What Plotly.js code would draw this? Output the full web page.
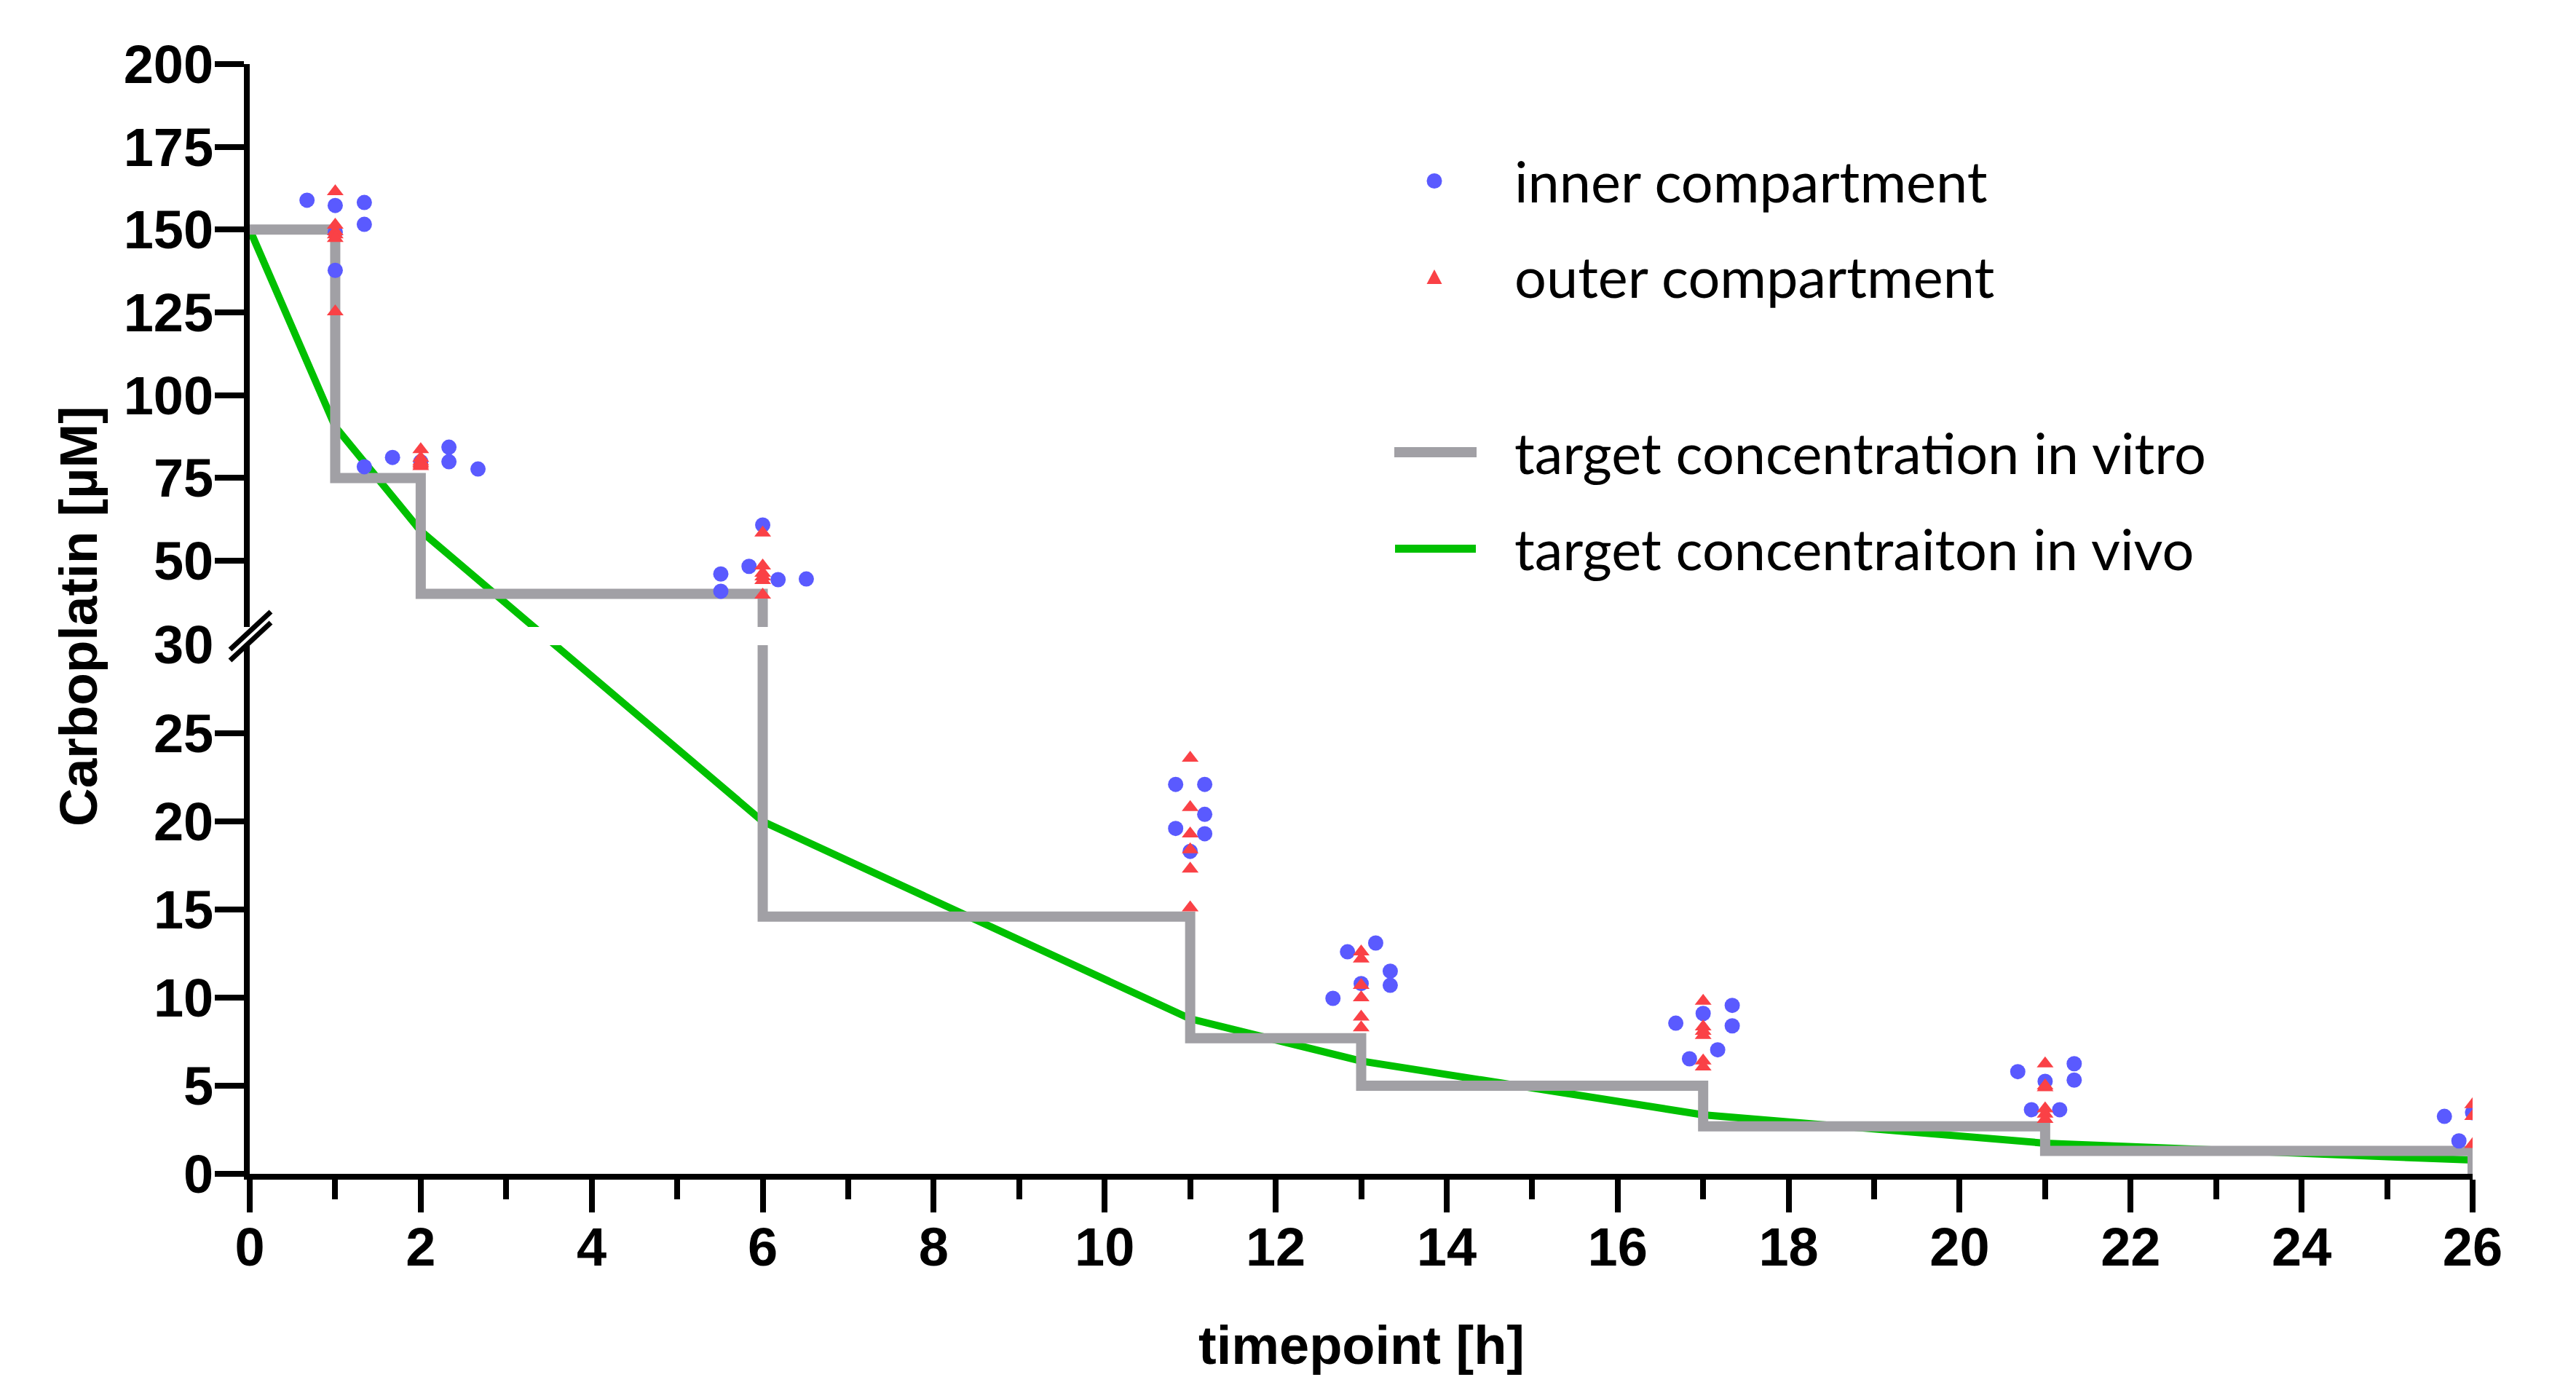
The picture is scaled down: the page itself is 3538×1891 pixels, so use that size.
<!DOCTYPE html>
<html>
<head>
<meta charset="utf-8">
<script src="https://cdn.plot.ly/plotly-3.0.1.min.js"></script>
<style>
  html, body { margin: 0; padding: 0; background: #ffffff; }
  #chart { width: 3538px; height: 1891px; }
</style>
</head>
<body>
<div id="chart"></div>
<script>
// ---------------- data ----------------
// target concentration in vivo (green line)
const vivoTime = [0, 1, 2, 6, 11, 13, 17, 21, 26];
const vivoConc = [150, 90.5, 59, 20, 8.8, 6.4, 3.35, 1.74, 0.78];

// target concentration in vitro (grey step line)
const vitroTime = [0, 1, 2, 6, 11, 13, 17, 21, 26];
const vitroConc = [150, 75, 40, 14.6, 7.7, 5.0, 2.7, 1.3, 0];

// inner compartment (blue circles), scattered around each timepoint
const innerTime = [
  0.67, 1.0, 1.34, 1.34, 1.0, 1.0,
  1.34, 1.67, 2.0, 2.33, 2.33, 2.67,
  5.51, 5.51, 5.84, 6.0, 6.18, 6.51,
  10.83, 11.17, 11.17, 10.83, 11.17, 11.0,
  12.84, 13.17, 13.34, 13.34, 13.0, 12.67,
  16.68, 17.0, 17.34, 17.34, 17.17, 16.84,
  20.68, 21.34, 21.34, 21.0, 20.84, 21.17,
  25.67, 25.84, 26.0
];
const innerConc = [
  158.9, 157.3, 158.2, 151.6, 149.2, 137.7,
  78.4, 81.2, 79.9, 84.3, 79.9, 77.7,
  46.0, 40.8, 48.3, 60.8, 44.3, 44.5,
  22.1, 22.1, 20.4, 19.6, 19.3, 18.3,
  12.6, 13.1, 11.5, 10.7, 10.8, 9.96,
  8.55, 9.1, 9.56, 8.4, 7.04, 6.53,
  5.8, 6.25, 5.32, 5.25, 3.64, 3.64,
  3.26, 1.87, 3.47
];

// outer compartment (red triangles)
const outerTime = [
  1, 1, 1, 1, 1, 1,
  2, 2, 2, 2, 2, 2,
  6, 6, 6, 6, 6, 6,
  11, 11, 11, 11, 11, 11,
  13, 13, 13, 13, 13, 13,
  17, 17, 17, 17, 17, 17,
  21, 21, 21, 21, 21, 21,
  26, 26, 26
];
const outerConc = [
  161.5, 151.4, 149.4, 148.5, 147.4, 125.2,
  83.6, 81.0, 80.0, 79.5, 79.0, 78.5,
  58.4, 48.5, 46.3, 45.2, 44.1, 39.7,
  23.6, 20.8, 19.3, 18.4, 17.3, 15.1,
  12.6, 12.2, 10.7, 10.0, 8.9, 8.3,
  9.8, 8.35, 8.1, 7.86, 6.42, 6.07,
  6.25, 5.0, 4.9, 3.7, 3.4, 3.1,
  3.94, 3.26, 1.67
];

// axis ticks
const xMajorTicks = [0, 2, 4, 6, 8, 10, 12, 14, 16, 18, 20, 22, 24, 26];
const yLowTicks = [0, 5, 10, 15, 20, 25];
const yHighTicks = [50, 75, 100, 125, 150, 175, 200];
const yBreakValue = 30;
const yLowRange = [0, 30];
const yHighRange = [30, 200];

// labels
const legendLabels = ['inner compartment', 'outer compartment',
  'target concentration in vitro', 'target concentraiton in vivo'];
const yTitle = 'Carboplatin [µM]';
const xTitle = 'timepoint [h]';

// ---------------- geometry ----------------
const W = 3538, H = 1891;
const M = { l: 343, r: 142, t: 88, b: 279 };
const PW = W - M.l - M.r, PH = H - M.t - M.b;
const pxX = px => (px - M.l) / PW;          // pixel -> paper x
const pxY = py => (H - M.b - py) / PH;      // pixel -> paper y
const lowDomain = [0, pxY(886)];
const highDomain = [pxY(861), 1];

const colors = { inner: '#5a5aff', outer: '#fa4146', vitro: '#a1a0a5', vivo: '#00c000' };

// broken-axis screen fraction and back-projection to each segment's scale
function frac(v) {
  if (v < yBreakValue) return lowDomain[0] + (v - yLowRange[0]) / (yLowRange[1] - yLowRange[0]) * (lowDomain[1] - lowDomain[0]);
  return highDomain[0] + (v - yHighRange[0]) / (yHighRange[1] - yHighRange[0]) * (highDomain[1] - highDomain[0]);
}
const toLow = f => yLowRange[0] + (f - lowDomain[0]) / (lowDomain[1] - lowDomain[0]) * (yLowRange[1] - yLowRange[0]);
const toHigh = f => yHighRange[0] + (f - highDomain[0]) / (highDomain[1] - highDomain[0]) * (yHighRange[1] - yHighRange[0]);

function lineTraces(xs, ys, color, width, shape) {
  const f = ys.map(frac);
  const base = { x: xs, mode: 'lines', xaxis: 'x', showlegend: false, hoverinfo: 'skip',
                 line: { color: color, width: width, shape: shape } };
  return [
    Object.assign({}, base, { y: f.map(toHigh), yaxis: 'y2' }),
    Object.assign({}, base, { y: f.map(toLow), yaxis: 'y' })
  ];
}
function markerTraces(xs, ys, color, symbol, size) {
  const hi = { x: [], y: [] }, lo = { x: [], y: [] };
  xs.forEach((x, i) => { const t = ys[i] >= yBreakValue ? hi : lo; t.x.push(x); t.y.push(ys[i]); });
  const base = { mode: 'markers', xaxis: 'x', showlegend: false,
                 marker: { color: color, symbol: symbol, size: size, line: { width: 0 } } };
  return [
    Object.assign({}, base, { x: hi.x, y: hi.y, yaxis: 'y2' }),
    Object.assign({}, base, { x: lo.x, y: lo.y, yaxis: 'y' })
  ];
}

const traces = [].concat(
  lineTraces(vivoTime, vivoConc, colors.vivo, 10, 'linear'),
  lineTraces(vitroTime, vitroConc, colors.vitro, 14, 'hv'),
  markerTraces(innerTime, innerConc, colors.inner, 'circle', 21),
  markerTraces(outerTime, outerConc, colors.outer, 'triangle-up', 20)
);

const tickFont = { family: 'Liberation Sans, Arial, sans-serif', size: 74, color: '#000', weight: 'bold' };
const yCommon = {
  anchor: 'x', showline: true, linecolor: '#000', linewidth: 8,
  ticks: 'outside', ticklen: 40, tickwidth: 8, tickcolor: '#000', ticklabelstandoff: -13,
  tickmode: 'array', tickfont: tickFont, showgrid: false, zeroline: false, fixedrange: true
};

const legendFont = { family: 'Lato, Open Sans, sans-serif', size: 77.5, color: '#000' };
const legendRows = [248.5, 380, 621, 753.5];
const textLeft = 2078;

const shapes = [
  // axis break marks
  { type: 'line', xref: 'paper', yref: 'paper', x0: pxX(316), y0: pxY(892), x1: pxX(372), y1: pxY(840),
    line: { color: '#000', width: 7 } },
  { type: 'line', xref: 'paper', yref: 'paper', x0: pxX(316), y0: pxY(907), x1: pxX(372), y1: pxY(855),
    line: { color: '#000', width: 7 } },
  // legend symbols
  { type: 'circle', xref: 'paper', yref: 'paper', x0: pxX(1959.5), x1: pxX(1980.5),
    y0: pxY(legendRows[0] + 10.5), y1: pxY(legendRows[0] - 10.5), fillcolor: colors.inner, line: { width: 0 } },
  { type: 'path', xref: 'paper', yref: 'paper',
    path: 'M' + pxX(1959.5) + ',' + pxY(legendRows[1] + 10) + ' L' + pxX(1980.5) + ',' + pxY(legendRows[1] + 10) +
          ' L' + pxX(1970) + ',' + pxY(legendRows[1] - 10) + ' Z',
    fillcolor: colors.outer, line: { width: 0 } },
  { type: 'line', xref: 'paper', yref: 'paper', x0: pxX(1915), x1: pxX(2028),
    y0: pxY(legendRows[2]), y1: pxY(legendRows[2]), line: { color: colors.vitro, width: 14 } },
  { type: 'line', xref: 'paper', yref: 'paper', x0: pxX(1916), x1: pxX(2027),
    y0: pxY(legendRows[3]), y1: pxY(legendRows[3]), line: { color: colors.vivo, width: 11 } }
];

const annotations = legendLabels.map((txt, i) => ({
  text: txt, xref: 'paper', yref: 'paper', x: pxX(textLeft), y: pxY(legendRows[i]),
  xanchor: 'left', yanchor: 'middle', showarrow: false, font: legendFont
})).concat([
  { text: String(yBreakValue), xref: 'paper', yref: 'y', x: pxX(295), y: yBreakValue,
    xanchor: 'right', yanchor: 'middle', showarrow: false, font: tickFont },
  { text: yTitle, xref: 'paper', yref: 'paper', x: pxX(107), y: pxY(846), textangle: -90,
    xanchor: 'center', yanchor: 'middle', showarrow: false,
    font: { family: 'Liberation Sans, Arial, sans-serif', size: 73, color: '#000', weight: 'bold' } },
  { text: xTitle, xref: 'paper', yref: 'paper', x: 0.5, y: pxY(1847),
    xanchor: 'center', yanchor: 'middle', showarrow: false,
    font: { family: 'Liberation Sans, Arial, sans-serif', size: 74, color: '#000', weight: 'bold' } }
]);

const layout = {
  width: W, height: H,
  margin: M,
  paper_bgcolor: '#ffffff', plot_bgcolor: '#ffffff',
  showlegend: false,
  xaxis: {
    domain: [0, 1], range: [0, 26], anchor: 'y',
    showline: true, linecolor: '#000', linewidth: 8,
    ticks: 'outside', ticklen: 45, tickwidth: 8, tickcolor: '#000', ticklabelstandoff: -16,
    tickmode: 'array', tickvals: xMajorTicks, tickfont: tickFont,
    minor: { dtick: 1, tick0: 0, ticks: 'outside', ticklen: 27, tickwidth: 8, tickcolor: '#000', showgrid: false },
    showgrid: false, zeroline: false, fixedrange: true
  },
  yaxis: Object.assign({}, yCommon, { domain: lowDomain, range: yLowRange, tickvals: yLowTicks }),
  yaxis2: Object.assign({}, yCommon, { domain: highDomain, range: yHighRange, tickvals: yHighTicks }),
  shapes: shapes,
  annotations: annotations
};

Plotly.newPlot('chart', traces, layout, { staticPlot: true, displayModeBar: false });
</script>
</body>
</html>
